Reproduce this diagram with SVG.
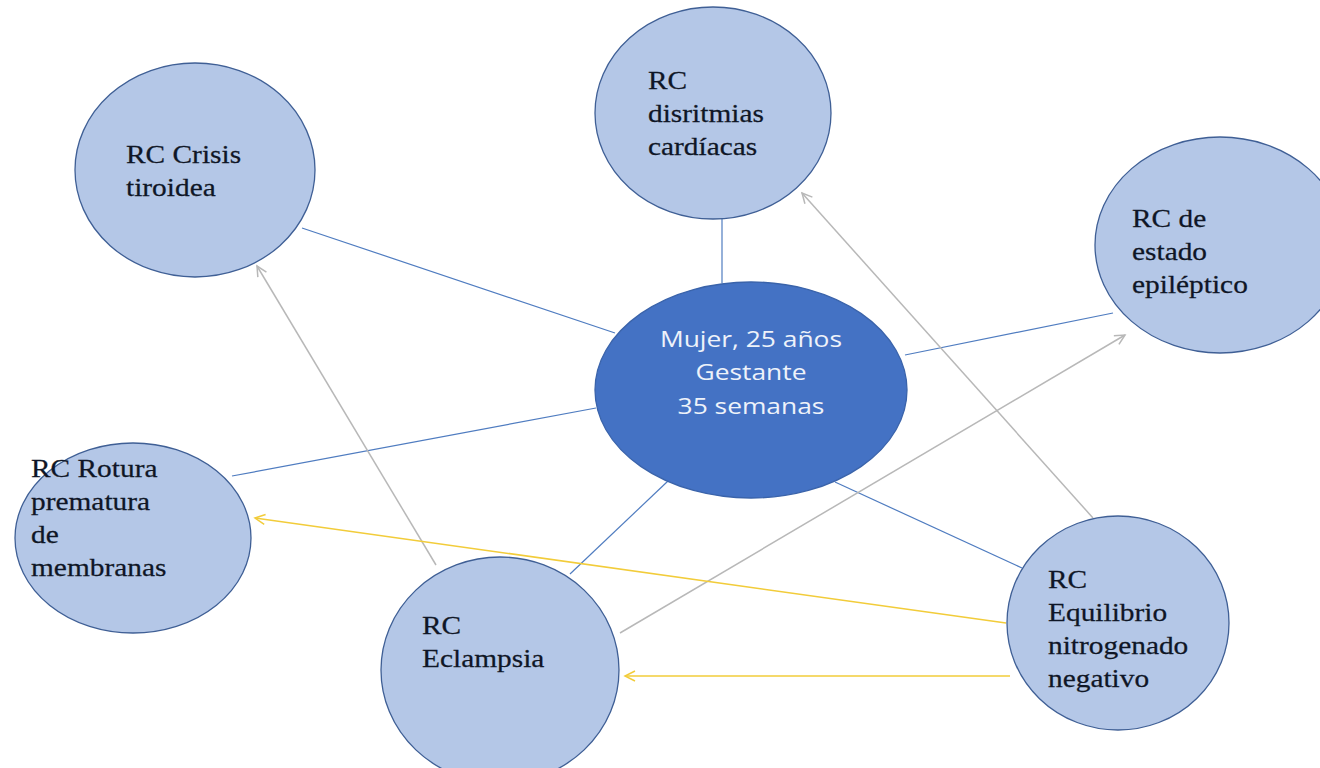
<svg xmlns="http://www.w3.org/2000/svg" width="1320" height="768" viewBox="0 0 1320 768">
<style>
.node{fill:#B4C7E7;stroke:#3F5F95;stroke-width:1.3}
.core{fill:#4472C4;stroke:#3A63AA;stroke-width:1.3}
.lbl{font-family:"Liberation Serif","Times New Roman",serif;font-size:26px;fill:#0F1626;stroke:#0F1626;stroke-width:0.25}
.clbl{font-family:"Open Sans","Noto Sans",sans-serif;font-size:22px;fill:#EEF2FA;text-anchor:middle}
.blue{stroke:#4F7CC0;stroke-width:1.2;fill:none}
.grey{stroke:#B8B8B8;stroke-width:1.5;fill:none}
.yellow{stroke:#F2CC3A;stroke-width:1.5;fill:none}
</style>
<defs>
<marker id="ag" markerWidth="14" markerHeight="14" refX="12" refY="7" orient="auto" markerUnits="userSpaceOnUse">
<path d="M2,2 L12,7 L2,12" fill="none" stroke="#B8B8B8" stroke-width="1.5"/>
</marker>
<marker id="ay" markerWidth="14" markerHeight="14" refX="12" refY="7" orient="auto" markerUnits="userSpaceOnUse">
<path d="M2,2 L12,7 L2,12" fill="none" stroke="#F2CC3A" stroke-width="1.5"/>
</marker>
</defs>
<rect width="1320" height="768" fill="#FFFFFF"/>
<g id="connectors">
<line class="blue" x1="302" y1="228" x2="615" y2="333"/>
<line class="blue" x1="722" y1="218" x2="722" y2="283"/>
<line class="blue" x1="905" y1="355" x2="1113" y2="313"/>
<line class="blue" x1="232" y1="476" x2="596" y2="408"/>
<line class="blue" x1="570" y1="574" x2="668" y2="481"/>
<line class="blue" x1="1022" y1="568" x2="835" y2="482"/>
<line class="grey" x1="436" y1="565" x2="257" y2="266" marker-end="url(#ag)"/>
<line class="grey" x1="620" y1="633" x2="1125" y2="335" marker-end="url(#ag)"/>
<line class="grey" x1="1093" y1="518" x2="802" y2="193" marker-end="url(#ag)"/>
<line class="yellow" x1="1006" y1="623" x2="255" y2="518" marker-end="url(#ay)"/>
<line class="yellow" x1="1010" y1="676" x2="625" y2="676" marker-end="url(#ay)"/>
</g>
<g id="crisis">
<ellipse class="node" cx="195" cy="170" rx="120" ry="107"/>
<text class="lbl" transform="translate(126,163) scale(1.13,1)"><tspan x="0" y="0">RC Crisis</tspan><tspan x="0" y="33">tiroidea</tspan></text>
</g>
<g id="disritmias">
<ellipse class="node" cx="713" cy="113" rx="118" ry="106"/>
<text class="lbl" transform="translate(648,89) scale(1.13,1)"><tspan x="0" y="0">RC</tspan><tspan x="0" y="33">disritmias</tspan><tspan x="0" y="66">cardíacas</tspan></text>
</g>
<g id="epileptico">
<ellipse class="node" cx="1220" cy="245" rx="125" ry="108"/>
<text class="lbl" transform="translate(1132,227) scale(1.13,1)"><tspan x="0" y="0">RC de</tspan><tspan x="0" y="33">estado</tspan><tspan x="0" y="66">epiléptico</tspan></text>
</g>
<g id="centro">
<ellipse class="core" cx="751" cy="390" rx="156" ry="108"/>
<text class="clbl" transform="translate(751,347) scale(1.2,1)"><tspan x="0" y="0">Mujer, 25 años</tspan><tspan x="0" y="33.5">Gestante</tspan><tspan x="0" y="67">35 semanas</tspan></text>
</g>
<g id="rotura">
<ellipse class="node" cx="133" cy="538" rx="118" ry="95"/>
<text class="lbl" transform="translate(31,477) scale(1.13,1)"><tspan x="0" y="0">RC Rotura</tspan><tspan x="0" y="33">prematura</tspan><tspan x="0" y="66">de</tspan><tspan x="0" y="99">membranas</tspan></text>
</g>
<g id="eclampsia">
<ellipse class="node" cx="500" cy="670" rx="119" ry="113"/>
<text class="lbl" transform="translate(422,634) scale(1.13,1)"><tspan x="0" y="0">RC</tspan><tspan x="0" y="33">Eclampsia</tspan></text>
</g>
<g id="equilibrio">
<ellipse class="node" cx="1118" cy="623" rx="111" ry="107"/>
<text class="lbl" transform="translate(1048,588) scale(1.13,1)"><tspan x="0" y="0">RC</tspan><tspan x="0" y="33">Equilibrio</tspan><tspan x="0" y="66">nitrogenado</tspan><tspan x="0" y="99">negativo</tspan></text>
</g>
</svg>
